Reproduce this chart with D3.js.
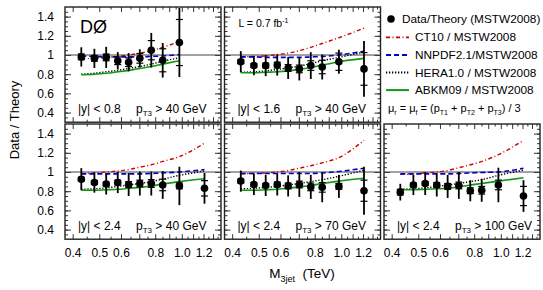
<!DOCTYPE html>
<html>
<head>
<meta charset="utf-8">
<script src="https://cdn.jsdelivr.net/npm/d3@7"></script>
<style>
  body { margin: 0; background: #fff; }
  svg { font-family: "Liberation Sans", Arial, sans-serif; }
</style>
</head>
<body>
<script>
// bin centres of M3jet (TeV)
var mass = [0.43, 0.48, 0.53, 0.584, 0.64, 0.703, 0.774, 0.852, 0.98, 1.21];

var xTickLabels = [0.4, 0.5, 0.6, 0.8, 1.0, 1.2];
var xTicksMajor = [0.4, 0.5, 0.6, 0.7, 0.8, 0.9, 1.0, 1.1, 1.2, 1.3];
var yTickLabels = [0.4, 0.6, 0.8, 1, 1.2, 1.4];

// |y| < 0.8, pT3 > 40 GeV
var ratioA = [0.98, 0.965, 0.975, 0.94, 0.925, 0.965, 1.05, 0.945, 1.13];
var totA   = [0.10, 0.10, 0.11, 0.09, 0.095, 0.095, 0.18, 0.18, 0.36];
var statA  = [0.03, 0.03, 0.035, 0.04, 0.045, 0.05, 0.10, 0.12, 0.24];
var ct10A  = [0.96, 0.965, 0.975, 0.985, 1.0, 1.02, 1.045, 1.08, 1.14];
var nnpdfA = [0.99, 0.985, 0.98, 0.98, 0.98, 0.98, 0.985, 0.99, 1.005];
var heraA  = [0.80, 0.81, 0.825, 0.84, 0.86, 0.88, 0.905, 0.935, 0.97];
var abkmA  = [0.795, 0.80, 0.81, 0.825, 0.84, 0.86, 0.88, 0.905, 0.94];

// |y| < 1.6, pT3 > 40 GeV
var ratioB = [0.93, 0.89, 0.89, 0.895, 0.865, 0.855, 0.89, 0.875, 0.93, 0.855];
var totB   = [0.11, 0.10, 0.11, 0.11, 0.115, 0.12, 0.14, 0.13, 0.125, 0.29];
var statB  = [0.02, 0.02, 0.025, 0.03, 0.035, 0.04, 0.05, 0.07, 0.09, 0.17];
var ct10B  = [0.98, 0.985, 0.99, 1.005, 1.02, 1.045, 1.08, 1.12, 1.18, 1.28];
var nnpdfB = [0.98, 0.98, 0.975, 0.975, 0.975, 0.975, 0.98, 0.985, 1.0, 1.04];
var heraB  = [0.82, 0.825, 0.835, 0.85, 0.865, 0.885, 0.91, 0.94, 0.975, 1.03];
var abkmB  = [0.815, 0.815, 0.82, 0.825, 0.835, 0.85, 0.87, 0.895, 0.93, 0.965];

// |y| < 2.4, pT3 > 40 GeV
var ratioC = [0.925, 0.89, 0.875, 0.89, 0.87, 0.88, 0.88, 0.865, 0.855, 0.83];
var totC   = [0.115, 0.105, 0.11, 0.11, 0.12, 0.125, 0.125, 0.145, 0.20, 0.16];
var statC  = [0.02, 0.02, 0.02, 0.025, 0.03, 0.035, 0.04, 0.06, 0.03, 0.08];
var ct10C  = [0.985, 0.99, 1.0, 1.01, 1.025, 1.05, 1.075, 1.11, 1.16, 1.30];
var nnpdfC = [0.98, 0.98, 0.98, 0.98, 0.98, 0.98, 0.985, 0.99, 1.0, 1.025];
var heraC  = [0.82, 0.825, 0.835, 0.85, 0.865, 0.88, 0.90, 0.925, 0.965, 1.01];
var abkmC  = [0.81, 0.81, 0.815, 0.82, 0.83, 0.84, 0.855, 0.875, 0.90, 0.93];

// |y| < 2.4, pT3 > 70 GeV
var ratioD = [0.905, 0.87, 0.86, 0.87, 0.855, 0.87, 0.845, 0.84, 0.85, 0.805];
var totD   = [0.11, 0.11, 0.11, 0.115, 0.11, 0.13, 0.125, 0.155, 0.12, 0.25];
var statD  = [0.02, 0.02, 0.02, 0.025, 0.03, 0.035, 0.04, 0.05, 0.03, 0.11];
var ct10D  = [0.98, 0.985, 0.99, 1.0, 1.015, 1.04, 1.065, 1.095, 1.15, 1.33];
var nnpdfD = [0.985, 0.985, 0.985, 0.985, 0.985, 0.985, 0.985, 0.99, 1.005, 1.04];
var heraD  = [0.825, 0.83, 0.84, 0.85, 0.865, 0.88, 0.90, 0.92, 0.955, 1.02];
var abkmD  = [0.81, 0.81, 0.815, 0.82, 0.83, 0.845, 0.86, 0.88, 0.905, 0.935];

// |y| < 2.4, pT3 > 100 GeV
var ratioE = [0.79, 0.865, 0.88, 0.865, 0.85, 0.86, 0.805, 0.81, 0.865, 0.75];
var totE   = [0.087, 0.105, 0.12, 0.12, 0.12, 0.14, 0.11, 0.12, 0.18, 0.165];
var statE  = [0.03, 0.02, 0.02, 0.025, 0.03, 0.035, 0.03, 0.04, 0.05, 0.10];
var ct10E  = [0.975, 0.98, 0.99, 1.0, 1.015, 1.045, 1.075, 1.11, 1.18, 1.33];
var nnpdfE = [0.98, 0.98, 0.98, 0.98, 0.98, 0.985, 0.99, 0.995, 1.0, 1.04];
var heraE  = [0.82, 0.825, 0.835, 0.85, 0.865, 0.88, 0.90, 0.92, 0.965, 1.02];
var abkmE  = [0.815, 0.815, 0.82, 0.825, 0.83, 0.845, 0.865, 0.88, 0.905, 0.94];

var legendLabels = ["CT10 / MSTW2008", "NNPDF2.1/MSTW2008", "HERA1.0 / MSTW2008", "ABKM09 / MSTW2008"];

// sizes
var w = 543, h = 290;
var pw = 156, ph = 115.2;
var colX = [65, 224.5, 384];
var rowY = [7, 124];

var styles = [
  {color: "#cc0000", dash: "4,2.5,1,2.5", width: 1.4},
  {color: "#0000cc", dash: "5,3", width: 1.6},
  {color: "#000000", dash: "1.3,1.7", width: 1.4},
  {color: "#119911", dash: null, width: 1.6}
];

var panels = [
  {col: 0, row: 0, ratio: ratioA, tot: totA, stat: statA, th: [ct10A, nnpdfA, heraA, abkmA], ylab: "0.8", pt: "40"},
  {col: 1, row: 0, ratio: ratioB, tot: totB, stat: statB, th: [ct10B, nnpdfB, heraB, abkmB], ylab: "1.6", pt: "40"},
  {col: 0, row: 1, ratio: ratioC, tot: totC, stat: statC, th: [ct10C, nnpdfC, heraC, abkmC], ylab: "2.4", pt: "40"},
  {col: 1, row: 1, ratio: ratioD, tot: totD, stat: statD, th: [ct10D, nnpdfD, heraD, abkmD], ylab: "2.4", pt: "70"},
  {col: 2, row: 1, ratio: ratioE, tot: totE, stat: statE, th: [ct10E, nnpdfE, heraE, abkmE], ylab: "2.4", pt: "100"}
];

var svg = d3.select("body").append("svg")
  .attr("width", w)
  .attr("height", h);

var x = d3.scaleLog().domain([0.375, 1.39]).range([0, pw]);
var y = d3.scaleLinear().domain([0.3, 1.5]).range([ph, 0]);

var yMinor = d3.range(0.35, 1.5, 0.05).map(function(v) { return +v.toFixed(2); });
var xMinor = [0.45, 0.55, 0.65, 0.75, 0.85, 0.95, 1.05, 1.15, 1.25, 1.35];

panels.forEach(function(p) {
  var g = svg.append("g")
    .attr("transform", "translate(" + colX[p.col] + "," + rowY[p.row] + ")");

  //ticks on all four sides, pointing in
  function addAxis(axis, tf, showLabels) {
    var a = g.append("g").attr("transform", tf).call(axis);
    a.select(".domain").remove();
    a.selectAll("line").attr("stroke", "#333").attr("stroke-width", 1);
    if (!showLabels) a.selectAll("text").remove();
    else a.selectAll("text").attr("font-size", 12).attr("fill", "#000")
      .attr("font-family", "Liberation Sans, Arial, sans-serif");
    return a;
  }

  addAxis(d3.axisLeft(y).tickValues(yTickLabels).tickSize(-6).tickPadding(11)
    .tickFormat(function(d) { return d === 1 ? "1" : d3.format(".1f")(d); }),
    null, p.col === 0);
  addAxis(d3.axisLeft(y).tickValues(yMinor).tickSize(-3), null, false);
  addAxis(d3.axisRight(y).tickValues(yTickLabels).tickSize(-6), "translate(" + pw + ",0)", false);
  addAxis(d3.axisRight(y).tickValues(yMinor).tickSize(-3), "translate(" + pw + ",0)", false);

  addAxis(d3.axisBottom(x).tickValues(xTicksMajor).tickSize(-5).tickPadding(9)
    .tickFormat(function(d) { return xTickLabels.indexOf(d) >= 0 ? d3.format(".1f")(d) : ""; }),
    "translate(0," + ph + ")", p.row === 1);
  addAxis(d3.axisBottom(x).tickValues(xMinor).tickSize(-2.5), "translate(0," + ph + ")", false);
  addAxis(d3.axisTop(x).tickValues(xTicksMajor).tickSize(-5), null, false);
  addAxis(d3.axisTop(x).tickValues(xMinor).tickSize(-2.5), null, false);

  // line at 1
  g.append("line")
    .attr("x1", 0).attr("x2", pw)
    .attr("y1", y(1)).attr("y2", y(1))
    .attr("stroke", "#444").attr("stroke-width", 1);

  // theory curves
  var n = p.ratio.length;
  var line = d3.line()
    .x(function(d, i) { return x(mass[i]); })
    .y(function(d) { return y(d); })
    .curve(d3.curveMonotoneX);
  p.th.forEach(function(arr, k) {
    g.append("path")
      .attr("d", line(arr.slice(0, n)))
      .attr("fill", "none")
      .attr("stroke", styles[k].color)
      .attr("stroke-width", styles[k].width)
      .attr("stroke-dasharray", styles[k].dash);
  });

  // data with errors
  var pts = g.selectAll(".pt").data(p.ratio).enter().append("g").attr("class", "pt");
  pts.append("line")
    .attr("x1", function(d, i) { return x(mass[i]); })
    .attr("x2", function(d, i) { return x(mass[i]); })
    .attr("y1", function(d, i) { return y(d + p.tot[i]); })
    .attr("y2", function(d, i) { return y(d - p.tot[i]); })
    .attr("stroke", "#000").attr("stroke-width", 1.8);
  [1, -1].forEach(function(s) {
    pts.append("line")
      .attr("x1", function(d, i) { return x(mass[i]) - 3.5; })
      .attr("x2", function(d, i) { return x(mass[i]) + 3.5; })
      .attr("y1", function(d, i) { return y(d + s * p.stat[i]); })
      .attr("y2", function(d, i) { return y(d + s * p.stat[i]); })
      .attr("stroke", "#000").attr("stroke-width", 1.2);
  });
  pts.append("circle")
    .attr("cx", function(d, i) { return x(mass[i]); })
    .attr("cy", function(d) { return y(d); })
    .attr("r", 3.8)
    .attr("fill", "#000");

  // frame
  g.append("rect")
    .attr("width", pw).attr("height", ph)
    .attr("fill", "none").attr("stroke", "#222").attr("stroke-width", 1.4);

  // labels
  g.append("text")
    .attr("x", 13).attr("y", ph - 9)
    .attr("font-size", 12)
    .text("|y| < " + p.ylab);
  var t = g.append("text")
    .attr("x", 71).attr("y", ph - 9)
    .attr("font-size", 12);
  t.append("tspan").text("p");
  t.append("tspan").attr("font-size", 8).attr("dy", 3).text("T3");
  t.append("tspan").attr("dy", -3).text(" > " + p.pt + " GeV");

  if (p.col === 0 && p.row === 0) {
    g.append("text").attr("x", 15).attr("y", 26)
      .attr("font-size", 18).text("DØ");
  }
  if (p.col === 1 && p.row === 0) {
    var lt = g.append("text").attr("x", 14).attr("y", 20).attr("font-size", 10.5);
    lt.append("tspan").text("L = 0.7 fb");
    lt.append("tspan").attr("font-size", 7).attr("dy", -4).text("-1");
  }
});

// legend
var lg = svg.append("g").attr("font-size", 11.8);
lg.append("circle").attr("cx", 391).attr("cy", 19).attr("r", 3.8).attr("fill", "#000");
lg.append("text").attr("x", 402).attr("y", 23).text("Data/Theory (MSTW2008)");
legendLabels.forEach(function(lab, k) {
  var yy = 37.3 + k * 17.6;
  lg.append("line")
    .attr("x1", 386).attr("x2", 409)
    .attr("y1", yy).attr("y2", yy)
    .attr("stroke", styles[k].color)
    .attr("stroke-width", styles[k].width + 0.4)
    .attr("stroke-dasharray", styles[k].dash);
  lg.append("text").attr("x", 415).attr("y", yy + 4).text(lab);
});
var mu = lg.append("text").attr("x", 388).attr("y", 112).attr("font-size", 11);
mu.append("tspan").text("μ");
mu.append("tspan").attr("font-size", 7).attr("dy", 2.5).text("r");
mu.append("tspan").attr("dy", -2.5).text(" = μ");
mu.append("tspan").attr("font-size", 7).attr("dy", 2.5).text("f");
mu.append("tspan").attr("dy", -2.5).text(" = (p");
mu.append("tspan").attr("font-size", 7).attr("dy", 2.5).text("T1");
mu.append("tspan").attr("dy", -2.5).text(" + p");
mu.append("tspan").attr("font-size", 7).attr("dy", 2.5).text("T2");
mu.append("tspan").attr("dy", -2.5).text(" + p");
mu.append("tspan").attr("font-size", 7).attr("dy", 2.5).text("T3");
mu.append("tspan").attr("dy", -2.5).text(") / 3");

// axis titles
svg.append("text")
  .attr("transform", "translate(19,120) rotate(-90)")
  .attr("text-anchor", "middle")
  .attr("font-size", 13)
  .text("Data / Theory");

var xt = svg.append("text")
  .attr("x", 302).attr("y", 278)
  .attr("text-anchor", "middle")
  .attr("font-size", 13.5)
  .style("white-space", "pre");
xt.append("tspan").text("M");
xt.append("tspan").attr("font-size", 9).attr("dy", 3.5).text("3jet");
xt.append("tspan").attr("dy", -3.5).text("\u00a0\u00a0(TeV)");
</script>
</body>
</html>
